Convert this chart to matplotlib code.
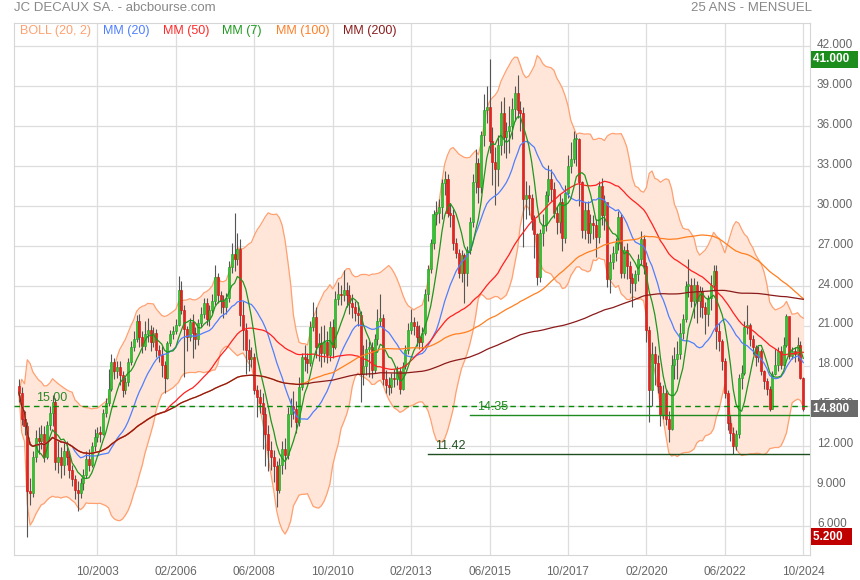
import numpy as np
import pandas as pd
import matplotlib
matplotlib.use("Agg")
import matplotlib.pyplot as plt
import matplotlib.transforms as mtransforms

plt.rcParams['font.family'] = ['Liberation Sans', 'DejaVu Sans']

## Data (monthly, June 2001 -> October 2024)
first_year, first_month = 2001, 6
first_open = 16.5

close = [
    16.0, 14.0, 13.5, 8.6, 8.5, 11.2, 12.6,                                  # 2001 (jun-dec)
    12.4, 12.9, 11.2, 13.6, 14.5, 15.3, 10.8, 11.2, 10.6, 11.6, 11.2, 10.2,  # 2002
    9.5, 8.7, 8.5, 9.2, 9.8, 11.0, 10.6, 12.0, 12.7, 13.0, 12.9, 14.5,       # 2003
    15.2, 16.3, 18.3, 17.6, 17.9, 17.3, 16.2, 16.8, 18.3, 19.4, 20.0, 21.4,  # 2004
    20.2, 19.5, 20.4, 20.7, 19.8, 20.5, 19.2, 18.8, 18.1, 17.1, 19.7, 20.4,  # 2005
    20.6, 21.1, 23.7, 22.2, 20.8, 20.2, 21.3, 20.5, 20.0, 21.2, 21.9, 22.7,  # 2006
    21.5, 22.2, 22.9, 24.7, 23.3, 22.9, 22.4, 23.1, 25.4, 26.4, 26.0, 26.8,  # 2007
    21.8, 20.7, 19.2, 18.5, 18.7, 16.2, 15.7, 15.2, 14.4, 12.9, 11.7, 11.2,  # 2008
    10.5, 8.7, 10.6, 11.8, 11.3, 14.4, 15.0, 14.8, 13.8, 16.4, 18.7, 18.5,   # 2009
    18.2, 20.9, 21.7, 19.4, 19.7, 19.0, 19.8, 18.8, 20.9, 19.4, 23.0, 23.4,  # 2010
    23.3, 23.7, 23.3, 22.7, 22.4, 22.0, 21.8, 17.4, 18.0, 19.3, 19.4, 17.7,  # 2011
    20.0, 21.4, 21.6, 17.0, 16.6, 16.4, 17.1, 17.0, 17.6, 16.3, 18.0, 19.2,  # 2012
    20.7, 21.3, 21.0, 20.2, 19.8, 20.5, 23.4, 25.3, 27.2, 29.4, 29.5, 29.9,  # 2013
    31.7, 32.0, 29.5, 29.3, 27.2, 26.5, 25.0, 26.3, 25.0, 26.7, 28.8, 31.8,  # 2014
    33.2, 31.4, 35.3, 37.2, 37.4, 34.9, 33.3, 32.8, 34.6, 37.0, 35.2, 35.6,  # 2015
    36.0, 37.3, 38.5, 37.2, 37.0, 30.5, 30.8, 30.6, 29.0, 27.9, 24.7, 28.0,  # 2016
    28.6, 30.8, 32.0, 31.3, 29.5, 28.8, 30.3, 27.6, 31.0, 33.0, 33.5, 35.0,  # 2017
    35.0, 31.8, 28.2, 29.7, 28.0, 28.7, 28.6, 27.7, 31.5, 29.3, 30.3, 24.5,  # 2018
    25.8, 26.5, 27.2, 29.2, 25.0, 26.7, 25.5, 24.6, 24.2, 24.9, 26.0, 27.5,  # 2019
    25.5, 20.7, 16.2, 18.9, 18.2, 16.5, 14.3, 16.0, 14.0, 13.3, 18.1, 18.5,  # 2020
    18.9, 20.5, 21.5, 24.0, 24.1, 22.9, 24.1, 22.9, 23.6, 22.4, 21.9, 23.1,  # 2021
    24.1, 25.1, 20.6, 19.9, 18.4, 16.0, 13.75, 13.0, 12.0, 12.9, 17.1, 17.5, # 2022
    20.9, 21.1, 20.0, 19.4, 18.7, 19.1, 17.6, 16.9, 16.3, 14.75, 17.4, 18.1, # 2023
    19.1, 18.1, 19.6, 21.75, 18.75, 19.1, 18.9, 19.6, 17.1, 14.8,            # 2024 (jan-oct)
]

high = [
    17.0, 16.4, 14.6, 13.8, 9.6, 11.6, 13.2,
    13.4, 13.6, 13.5, 13.9, 15.0, 15.8, 15.6, 12.4, 11.9, 12.3, 12.4, 11.6,
    10.6, 9.8, 9.4, 9.6, 10.3, 11.6, 11.8, 12.3, 13.3, 13.4, 13.5, 14.8,
    15.6, 17.8, 18.9, 18.6, 18.4, 18.4, 17.6, 17.2, 18.6, 19.9, 20.6, 21.8,
    21.9, 20.6, 21.4, 21.6, 21.1, 20.9, 20.8, 19.6, 19.5, 18.4, 19.9, 20.7,
    21.0, 21.5, 24.75, 24.4, 22.6, 21.0, 21.6, 21.9, 20.9, 21.5, 22.4, 23.1,
    23.1, 22.6, 23.4, 25.6, 25.0, 23.6, 23.3, 23.5, 25.9, 27.2, 29.45, 28.0,
    27.5, 22.9, 21.2, 20.0, 19.4, 19.0, 16.6, 16.3, 16.0, 14.9, 13.6, 12.4,
    11.7, 10.9, 11.1, 12.4, 12.6, 14.9, 15.6, 16.1, 15.4, 17.2, 19.0, 19.6,
    19.0, 21.4, 22.8, 22.4, 20.5, 21.0, 21.1, 20.6, 21.4, 21.5, 23.6, 24.3,
    24.1, 25.2, 24.3, 24.1, 23.4, 22.9, 22.8, 22.1, 19.6, 20.0, 19.9, 19.8,
    20.4, 22.3, 23.4, 21.9, 17.7, 17.2, 17.5, 17.8, 18.0, 17.9, 18.3, 19.6,
    21.2, 22.3, 21.7, 21.4, 21.1, 20.9, 23.8, 25.6, 27.5, 29.7, 30.4, 30.5,
    32.0, 32.6, 32.4, 30.2, 29.8, 27.6, 26.8, 26.7, 26.5, 27.0, 29.2, 32.4,
    34.3, 33.6, 35.6, 38.4, 39.0, 41.0, 35.9, 34.4, 35.3, 37.9, 38.2, 36.3,
    37.5, 38.1, 39.0, 39.8, 37.9, 37.4, 31.9, 31.6, 30.9, 29.3, 28.0, 28.3,
    29.4, 31.1, 33.1, 32.8, 31.8, 30.0, 30.9, 30.6, 31.6, 33.8, 34.8, 35.6,
    35.4, 35.1, 31.9, 30.3, 30.4, 29.4, 29.3, 29.0, 31.9, 32.1, 30.8, 30.1,
    26.4, 27.0, 27.6, 29.6, 29.4, 27.0, 27.2, 25.9, 25.0, 25.2, 26.4, 28.1,
    27.8, 25.8, 21.0, 19.8, 19.5, 18.8, 16.8, 16.6, 16.3, 14.6, 18.8, 19.4,
    19.9, 21.2, 21.9, 24.4, 26.0, 24.6, 24.6, 24.4, 24.0, 23.9, 22.8, 23.3,
    24.8, 25.6, 25.6, 21.2, 20.0, 18.6, 16.2, 14.3, 13.4, 13.2, 17.4, 18.1,
    21.4, 22.6, 21.2, 20.3, 19.6, 19.5, 19.3, 17.7, 17.1, 16.5, 17.6, 19.3,
    19.4, 19.5, 20.2, 21.9, 21.7, 19.4, 19.4, 20.2, 19.9, 17.2,
]

low = [
    15.3, 13.6, 12.8, 5.2, 7.6, 8.2, 10.8,
    11.4, 11.8, 10.8, 11.0, 13.2, 13.5, 10.2, 10.0, 9.6, 9.8, 10.6, 9.6,
    9.0, 8.0, 7.1, 8.1, 8.7, 9.6, 10.1, 10.4, 11.6, 12.3, 12.3, 12.8,
    14.2, 15.0, 16.1, 17.0, 17.1, 16.6, 15.7, 15.9, 16.5, 18.1, 19.1, 19.8,
    19.4, 19.0, 19.2, 19.8, 19.1, 19.4, 18.7, 18.3, 17.2, 16.0, 17.0, 19.5,
    20.0, 20.4, 21.0, 21.9, 17.2, 19.1, 19.9, 18.6, 19.3, 19.6, 20.9, 21.6,
    21.1, 21.0, 22.0, 22.6, 22.7, 22.0, 21.6, 21.9, 22.8, 25.0, 25.1, 25.6,
    21.0, 19.2, 17.4, 17.6, 17.9, 15.9, 14.2, 14.5, 11.8, 10.5, 10.1, 10.2,
    9.3, 7.45, 8.5, 9.9, 10.3, 11.0, 13.4, 14.0, 13.0, 13.5, 16.2, 17.6,
    17.5, 18.0, 20.6, 18.6, 18.4, 17.9, 18.3, 18.2, 18.4, 18.6, 19.3, 22.6,
    22.6, 22.9, 22.4, 21.9, 21.6, 21.4, 21.0, 15.3, 16.6, 17.3, 17.2, 17.1,
    17.5, 19.6, 21.0, 16.6, 16.0, 15.8, 16.0, 16.4, 16.6, 15.9, 16.2, 17.8,
    18.9, 20.4, 20.3, 19.5, 19.3, 19.2, 20.3, 22.9, 25.0, 26.8, 28.6, 28.7,
    29.0, 30.8, 29.2, 28.4, 26.7, 26.1, 24.6, 24.3, 22.7, 24.0, 26.4, 28.4,
    31.0, 30.2, 31.0, 34.5, 36.2, 34.0, 31.6, 30.1, 31.5, 33.8, 34.0, 33.6,
    34.0, 35.0, 36.4, 36.6, 35.6, 26.9, 29.0, 29.3, 28.2, 26.1, 24.1, 24.3,
    27.0, 28.1, 30.3, 30.4, 29.1, 27.9, 28.0, 26.6, 27.2, 30.6, 32.5, 33.2,
    33.0, 30.0, 27.6, 27.5, 27.2, 27.2, 27.5, 26.2, 27.2, 28.6, 28.2, 23.9,
    23.5, 25.3, 25.9, 26.7, 24.6, 24.6, 24.5, 23.5, 22.4, 23.6, 24.4, 25.6,
    24.9, 19.8, 13.8, 15.0, 16.6, 16.0, 13.5, 14.0, 13.6, 12.3, 13.2, 17.0,
    17.0, 18.5, 20.0, 21.3, 23.2, 22.4, 21.6, 21.2, 21.7, 21.6, 20.4, 21.0,
    22.2, 23.6, 19.3, 19.1, 17.7, 15.6, 13.2, 12.4, 11.42, 11.7, 12.6, 16.3,
    17.3, 20.4, 19.5, 18.9, 18.0, 18.3, 17.3, 16.3, 15.8, 14.6, 14.8, 17.3,
    17.6, 17.8, 18.0, 19.4, 18.5, 18.5, 18.3, 18.4, 17.0, 14.6,
]

tick_labels = ['10/2003', '02/2006', '06/2008', '10/2010', '02/2013',
               '06/2015', '10/2017', '02/2020', '06/2022', '10/2024']

# support lines drawn on the chart
level_dashed = 15.00
level_values = [14.35, 11.42]
level_starts = ['11/2014', '08/2013']

ma_periods = [20, 50, 7, 100, 200]
ma_colors = ['#4f7fff', '#ff2020', '#1f961f', '#ff7f20', '#8b1a1a']
legend_labels = ['BOLL (20, 2)', 'MM (20)', 'MM (50)', 'MM (7)', 'MM (100)', 'MM (200)']
legend_colors = ['#ffa070', '#4f7fff', '#ff2a2a', '#1f9a1f', '#ff7f27', '#8b1c1c']


def month_index(label):
    mm, yy = label.split('/')
    return (int(yy) - first_year) * 12 + int(mm) - first_month

###############################################################################
close = np.array(close)
high = np.array(high)
low = np.array(low)
opn = np.concatenate([[first_open], close[:-1]])
x = np.arange(len(close))
s = pd.Series(close)

W, H = 860, 580
fig = plt.figure(figsize=(W / 100, H / 100), dpi=100)
ax = fig.add_axes([14 / W, (H - 555) / H, (810 - 14) / W, (555 - 23) / H])

# Bollinger band
mid = s.rolling(20, min_periods=1).mean()
sd = s.rolling(20, min_periods=1).std(ddof=0)
up, dn = mid + 2 * sd, mid - 2 * sd
ax.fill_between(x, dn, up, color='#ffe6d8', zorder=1, lw=0)
ax.plot(x, up, color='#ffa070', lw=0.9, zorder=2)
ax.plot(x, dn, color='#ffa070', lw=0.9, zorder=2)

# Candles
rise = close >= opn
ax.vlines(x, low, high, color='#555555', lw=0.8, zorder=3)
body = np.maximum(np.abs(close - opn), 0.12)
ax.bar(x[rise], body[rise], bottom=np.minimum(opn, close)[rise], width=0.72,
       color='#2ec82e', edgecolor='#1f9a1f', lw=0.4, zorder=4)
ax.bar(x[~rise], body[~rise], bottom=np.minimum(opn, close)[~rise], width=0.72,
       color='#e8231e', edgecolor='#c01010', lw=0.4, zorder=4)

# Moving averages
for n, c in zip(ma_periods, ma_colors):
    ax.plot(x, s.rolling(n, min_periods=1).mean(), color=c, lw=0.9, zorder=5)

# Support levels
ax.axhline(level_dashed, color='#0a8a0a', lw=1, ls=(0, (4, 3)), zorder=6)
ax.text(month_index('12/2001'), level_dashed + 0.15, '%.2f' % level_dashed,
        color='#2a8a2a', fontsize=9, va='bottom', zorder=7)
for v, st, c in zip(level_values, level_starts, ['#1f8a1f', '#1f4f1f']):
    m0 = month_index(st)
    ax.plot([m0, 300], [v, v], color=c, lw=1, zorder=6)
    ax.text(m0 + 2.5, v + 0.15, '%.2f' % v, color=c, fontsize=9, va='bottom', zorder=7)

# Axes
ax.set_xlim(-1.75, 282.4)
ax.set_ylim(3.82, 43.73)
ax.set_xticks([month_index(t) for t in tick_labels])
ax.set_xticklabels(tick_labels)
ax.set_yticks(np.arange(6, 43, 3))
ax.yaxis.tick_right()
ax.yaxis.set_major_formatter(plt.FormatStrFormatter('%.3f'))
ax.tick_params(axis='both', length=0, labelsize=8.5, colors='#666666')
ax.tick_params(axis='y', pad=5)
ax.tick_params(axis='x', pad=8)
lift = mtransforms.ScaledTranslation(0, 3 / 100, fig.dpi_scale_trans)
for lab in ax.get_yticklabels():
    lab.set_transform(lab.get_transform() + lift)
ax.grid(True, color='#dddddd', lw=0.9, zorder=0)
ax.set_axisbelow(True)
for sp in ax.spines.values():
    sp.set_color('#d6d6d6')

# Value boxes on the right
tr = mtransforms.blended_transform_factory(ax.transAxes, ax.transData)
for v, fc in [(high.max(), '#1c8c1c'), (close[-1], '#6a6a6a'), (low.min(), '#c00000')]:
    ax.text(1.004, v, '%.3f  ' % v, transform=tr, color='white', fontsize=8.5,
            fontweight='bold', va='center', ha='left', clip_on=False, zorder=8,
            bbox=dict(boxstyle='square,pad=0.2', fc=fc, ec='none'))

# Titles and legend row
fig.text(14 / W, 1 - 8 / H, 'JC DECAUX SA. - abcbourse.com', color='#888888',
         fontsize=9.5, va='center', ha='left')
fig.text(812 / W, 1 - 8 / H, '25 ANS - MENSUEL', color='#888888',
         fontsize=9.5, va='center', ha='right')
lx = [20, 103, 163, 222, 276, 343]
for px, t, c in zip(lx, legend_labels, legend_colors):
    fig.text(px / W, 1 - 31 / H, t, color=c, fontsize=9, va='center', ha='left')

fig.savefig('out.png', dpi=100)
